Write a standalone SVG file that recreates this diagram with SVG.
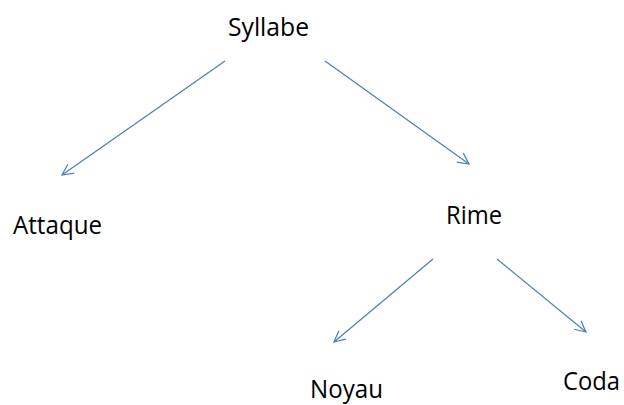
<svg xmlns="http://www.w3.org/2000/svg" width="624" height="405" viewBox="0 0 624 405">
<style>
text{font-family:"Open Sans","Liberation Sans",sans-serif;font-size:25px;fill:#000}
.c{stroke:#4a7ebb;stroke-width:1.2;fill:none;marker-end:url(#ah)}
</style>
<defs>
<marker id="ah" markerUnits="userSpaceOnUse" markerWidth="14" markerHeight="14" viewBox="0 0 14 14" refX="12" refY="7" orient="auto">
<path d="M1,1.5 L12,7 L1,12.5" fill="none" stroke="#4a7ebb" stroke-width="1.2"/>
</marker>
</defs>
<rect width="624" height="405" fill="#fff"/>
<g id="connectors">
<line class="c" x1="225" y1="61" x2="62" y2="175"/>
<line class="c" x1="325" y1="61" x2="469" y2="164"/>
<line class="c" x1="433" y1="259" x2="334" y2="342"/>
<line class="c" x1="497" y1="259" x2="586" y2="332"/>
</g>
<g id="syllabe"><text x="228" y="36" textLength="81" lengthAdjust="spacingAndGlyphs">Syllabe</text></g>
<g id="attaque"><text x="13" y="234" textLength="89" lengthAdjust="spacingAndGlyphs">Attaque</text></g>
<g id="rime"><text x="446" y="224" textLength="56" lengthAdjust="spacingAndGlyphs">Rime</text></g>
<g id="noyau"><text x="310" y="398" textLength="73" lengthAdjust="spacingAndGlyphs">Noyau</text></g>
<g id="coda"><text x="563" y="390" textLength="57" lengthAdjust="spacingAndGlyphs">Coda</text></g>
</svg>
